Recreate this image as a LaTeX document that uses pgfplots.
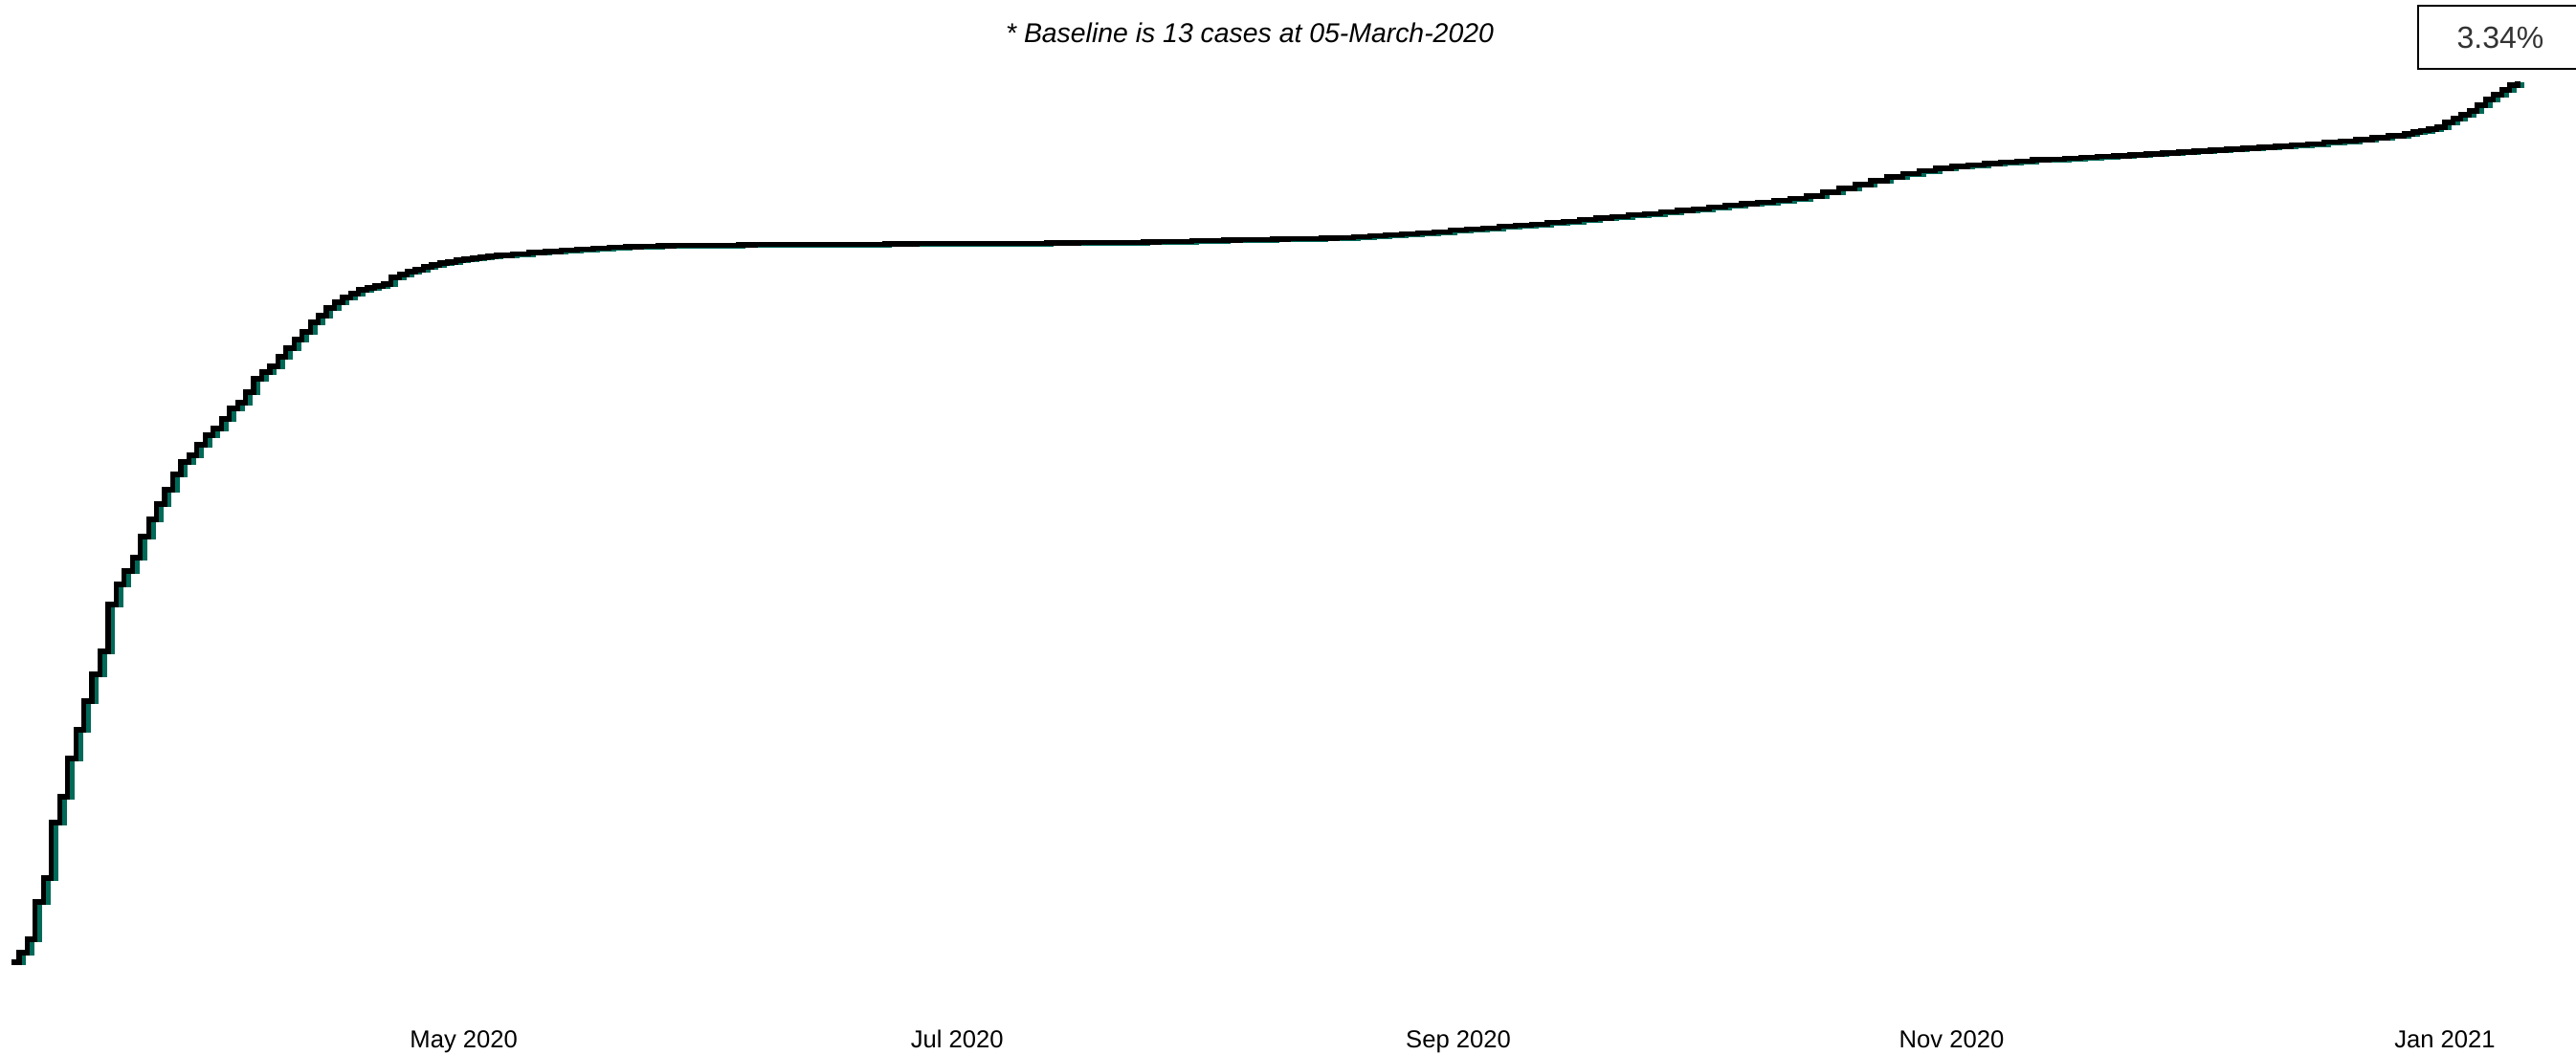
\documentclass[border=0pt]{standalone}
\usepackage{pgfplots}
\usepackage{pgfplotstable}
\pgfplotsset{compat=1.18}
\usepackage{fontspec}
\setmainfont{Liberation Sans}
\definecolor{shadow}{RGB}{0,105,88}
\definecolor{labgray}{RGB}{51,51,51}
\pgfplotstableread{
day h
0 4
1 14
2 28
3 67
4 92
5 150
6 177
7 217
8 247
9 277
10 305
11 329
12 378
13 399
14 413
15 427
16 449
17 467
18 483
19 498
20 514
21 527
22 534
23 545
24 555
25 562
26 572
27 583
28 589
29 600
30 614
31 621
32 627
33 637
34 646
35 655
36 663
37 673
38 680
39 688
40 694
41 699
42 703
43 707
44 709
45 711
46 713
47 720
48 723
49 726
50 728
51 731
52 733
53 735
54 736
55 738
56 739
57 740
58 741
59 742
60 743
62 744.5
64 746
66 747
68 748.5
70 749.5
72 750.5
74 751.5
76 752
78 752.5
80 753
82 753.2
84 753.4
86 753.6
88 753.8
90 754
92 754.1
94 754.2
96 754.3
98 754.4
100 754.5
102 754.6
104 754.7
106 754.8
108 754.9
110 755
112 755.1
114 755.2
116 755.3
118 755.4
120 755.5
122 755.6
124 755.7
126 755.8
128 755.9
130 756
132 756.2
134 756.4
136 756.6
138 756.8
140 757
142 757.4
144 757.8
146 758.2
148 758.6
150 759
152 759.3
154 759.6
156 759.9
158 760.2
160 760.5
162 761
164 761.6
166 762.3
168 763.2
170 764.2
172 765.3
174 766.5
176 767.8
178 769.2
180 770.5
182 771.8
184 773.1
186 774.4
188 775.8
190 777.2
192 778.8
194 780.4
196 782
198 783.6
200 785.2
202 786.8
204 788.4
206 790
208 791.7
210 793.4
212 795.2
214 797
216 798.8
218 800.6
220 802.4
222 805
224 809
226 813
228 817
230 821
232 825
234 828.4
236 831.6
238 834
240 836
242 837.6
244 839
246 840.4
248 841.8
250 843
252 843.8
254 844.6
256 845.4
258 846.2
260 847
262 848
264 849
266 850
268 851
270 852
272 853
274 854
276 855
278 856
280 857
282 858.4
284 859.8
286 861.2
288 862.6
290 864
292 866
294 868
296 870
297 872
298 873.5
299 875
300 877
301 882
302 886
303 890
304 894
305 900
306 906
307 911
308 916
309 921
310 925
}\datatable
\begin{document}
\begin{tikzpicture}
\path[use as bounding box] (0,0) rectangle (673pt,275.75pt);
\begin{axis}[
 at={(0,0)}, anchor=south west,
 scale only axis, width=673pt, height=275.75pt,
 xmin=-1.361, xmax=317.22, ymin=-93, ymax=1010,
 axis line style={draw=none}, major tick length=0pt,
 ytick=\empty,
 xtick={56,117,179,240,301},
 xticklabels={May 2020,Jul 2020,Sep 2020,Nov 2020,Jan 2021},
 xticklabel style={anchor=base, yshift=1.75pt, font=\fontsize{6.4}{7}\selectfont},
 clip=false,
]
\addplot[const plot, draw=shadow, line width=1.3pt, xshift=1.2pt, yshift=-0.2pt] table[x=day,y=h]{\datatable};
\addplot[const plot, draw=black, line width=1.3pt] table[x=day,y=h]{\datatable};
\node[anchor=base, font=\fontsize{7.1}{8}\selectfont\itshape] at (axis cs:153.2,965) {* Baseline is 13 cases at 05-March-2020};
\node[draw=black, line width=0.45pt, minimum width=43pt, minimum height=16.5pt, inner sep=0pt, text=labgray, font=\fontsize{8}{9}\selectfont] at (axis cs:307.87,971) {3.34\%};
\end{axis}
\end{tikzpicture}
\end{document}
